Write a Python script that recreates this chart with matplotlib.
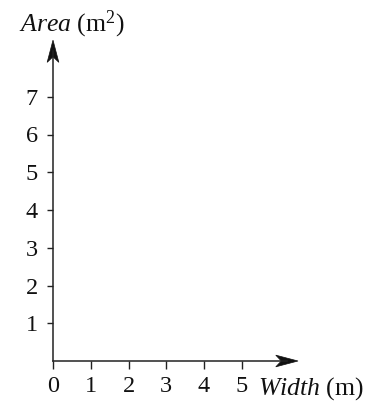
import matplotlib
matplotlib.use("Agg")
import matplotlib.pyplot as plt
from matplotlib.patches import Polygon
from matplotlib.transforms import Affine2D, ScaledTranslation

plt.rcParams['font.family'] = ['Liberation Serif', 'DejaVu Serif']
plt.rcParams['mathtext.fontset'] = 'custom'
plt.rcParams['mathtext.rm'] = 'Liberation Serif'
plt.rcParams['mathtext.it'] = 'Liberation Serif:italic'

x_ticks = [0, 1, 2, 3, 4, 5]
y_ticks = [1, 2, 3, 4, 5, 6, 7]
x_label = r"$\mathit{Width}$ (m)"
y_label = r"$\mathit{Area}$ (m$^2$)"

W, H = 371, 401
fig = plt.figure(figsize=(W / 100, H / 100), dpi=100)
unit = 37.75
ox, oy = 53, 361
xmax, ymax = 6.49, 8.5
ax = fig.add_axes([ox / W, (H - oy) / H, xmax * unit / W, ymax * unit / H])
ax.set_xlim(0, xmax)
ax.set_ylim(0, ymax)
for s in ['top', 'right']:
    ax.spines[s].set_visible(False)
col = '#222222'
for s in ['left', 'bottom']:
    ax.spines[s].set_color(col)
    ax.spines[s].set_linewidth(1.1)
ax.spines['bottom'].set_bounds(0, xmax - 0.3)
ax.spines['left'].set_bounds(0, ymax - 0.3)
ax.set_xticks(x_ticks)
ax.set_xticklabels([str(v) for v in x_ticks])
ax.set_yticks(y_ticks)
ax.set_yticklabels([str(v) for v in y_ticks])
ax.tick_params(axis='x', direction='out', length=5.8, width=1.0, color=col,
               labelsize=17.5, pad=5.0, labelcolor='#111111')
ax.tick_params(axis='y', direction='out', length=4.3, width=1.0, color=col,
               labelsize=17.5, pad=6.5, labelcolor='#111111')
ax.patch.set_visible(False)

# stealth arrowheads (in points, rotated)
head = [(0, 0), (-16, 4.2), (-12, 0), (-16, -4.2)]
def arrowhead(x, y, angle):
    tr = (Affine2D().rotate_deg(angle).scale(fig.dpi / 72)
          + ScaledTranslation(x, y, ax.transData))
    p = Polygon(head, closed=True, transform=tr, facecolor='#111111',
                edgecolor='#111111', lw=0.5, clip_on=False)
    ax.add_patch(p)

arrowhead(xmax, 0, 0)
arrowhead(0, ymax, 90)

fig.text(19 / W, 1 - 31 / H, y_label, fontsize=18.5, ha='left', va='baseline', color='#111111')
fig.text(258 / W, 1 - 395 / H, x_label, fontsize=18.5, ha='left', va='baseline', color='#111111')

fig.savefig('out.png', dpi=100)
